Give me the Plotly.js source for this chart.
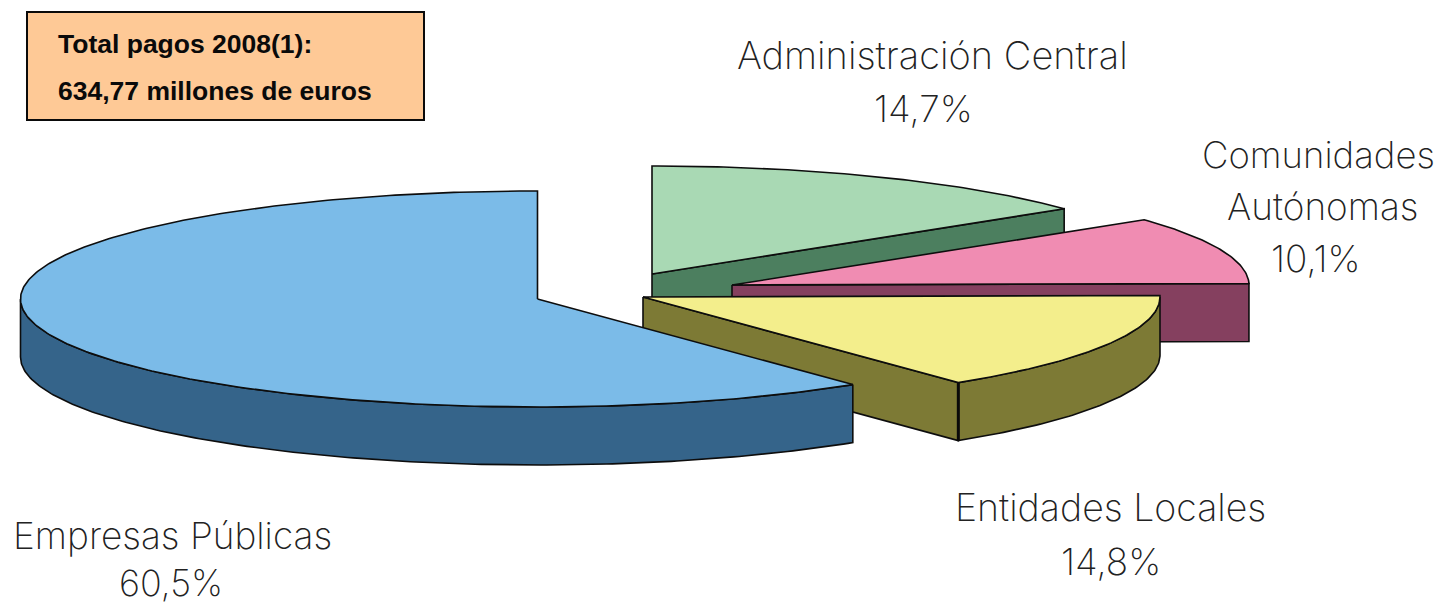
<!DOCTYPE html>
<html>
<head>
<meta charset="utf-8">
<script src="https://cdn.plot.ly/plotly-3.0.1.min.js"></script>
<style>html,body{margin:0;padding:0;background:#fff}#chart{width:1442px;height:605px}</style>
</head>
<body>
<div id="chart"></div>
<script>
// Data, clockwise from 12 o'clock
const categories = ["Administración Central", "Comunidades Autónomas", "Entidades Locales", "Empresas Públicas"];
const shares = [14.7, 10.1, 14.8, 60.5];
const shareLabels = ["14,7%", "10,1%", "14,8%", "60,5%"];
const topColors = ["#a9d9b4", "#f08cb2", "#f3ee8c", "#7bbbe8"];
const wallColors = ["#4c7f5f", "#85405f", "#7d7a35", "#35648a"];

// Projection of the exploded pie
const rx = 517, ry = 108, depth = 58;
const apexX = [652, 732, 643, 537.5];
const apexY = [274, 285, 297, 299];
const total = shares.reduce((s, v) => s + v, 0);

function pt(i, thetaDeg, drop) {
  const t = thetaDeg * Math.PI / 180;
  return [apexX[i] + rx * Math.sin(t), apexY[i] - ry * Math.cos(t) + drop];
}
function arc(i, a, b, drop) {
  const out = [], n = Math.max(8, Math.ceil(Math.abs(b - a) * 1.5));
  for (let k = 0; k <= n; k++) out.push(pt(i, a + (b - a) * k / n, drop));
  return out;
}
function poly(points, color) {
  const xs = points.map(p => p[0]), ys = points.map(p => p[1]);
  xs.push(xs[0]); ys.push(ys[0]);
  return {type: "scatter", mode: "lines", x: xs, y: ys, fill: "toself", fillcolor: color,
          line: {color: "#0d0d0d", width: 1.6}, hoverinfo: "skip", showlegend: false};
}

const traces = [];
let acc = 0;
shares.forEach((v, i) => {
  const a = acc / total * 360, b = (acc + v) / total * 360;
  acc += v;
  const apex = [apexX[i], apexY[i]];
  // radial wall of the clockwise edge is visible while it faces the viewer
  if (b < 180) {
    traces.push(poly([apex, pt(i, b, 0), pt(i, b, depth), [apex[0], apex[1] + depth]], wallColors[i]));
  }
  // rim wall: the part of the rim on the near half of the ellipse
  const wa = Math.max(a, 90), wb = Math.min(b, 270);
  if (wb > wa) {
    traces.push(poly(arc(i, wa, wb, 0).concat(arc(i, wb, wa, depth)), wallColors[i]));
  }
  // heavy corner where the radial wall meets the rim wall
  if (b < 180 && b > 90) {
    const p0 = pt(i, b, 0), p1 = pt(i, b, depth);
    traces.push({type: "scatter", mode: "lines", x: [p0[0], p1[0]], y: [p0[1], p1[1]],
                 line: {color: "#0a0a0a", width: 3}, hoverinfo: "skip", showlegend: false});
  }
  // top face
  traces.push(poly([apex].concat(arc(i, a, b, 0)), topColors[i]));
});

const labelFont = {family: "Inter, Liberation Sans, Arial, sans-serif", color: "#222222", weight: 200};
function label(text, x, y, size) {
  return {text, x, y, xref: "x", yref: "y", showarrow: false, xanchor: "center", yanchor: "middle",
          font: Object.assign({}, labelFont, {size})};
}
function boxText(text, y) {
  return {text, x: 56, y, xref: "x", yref: "y", showarrow: false, xanchor: "left", yanchor: "middle",
          font: {family: "Liberation Sans, Arial, sans-serif", size: 26.5, color: "#0a0a0a", weight: 700}};
}

const annotations = [
  boxText("Total pagos 2008(1):", 44),
  boxText("634,77 millones de euros", 91),
  label("Administración Central", 932, 55, 38),
  label(shareLabels[0], 923, 108, 37),
  label("Comunidades", 1318, 155, 36.5),
  label("Autónomas", 1323, 206, 37),
  label(shareLabels[1], 1316, 258, 37),
  label("Entidades Locales", 1110, 507, 37.5),
  label(shareLabels[2], 1111, 561, 37),
  label("Empresas Públicas", 172, 535, 37),
  label(shareLabels[3], 171, 583, 36)
];

const layout = {
  width: 1442, height: 605,
  margin: {l: 0, r: 0, t: 0, b: 0},
  paper_bgcolor: "#ffffff", plot_bgcolor: "#ffffff",
  showlegend: false,
  xaxis: {range: [0, 1442], visible: false, fixedrange: true},
  yaxis: {range: [605, 0], visible: false, fixedrange: true},
  shapes: [{type: "rect", xref: "x", yref: "y", x0: 27, x1: 424, y0: 12, y1: 120,
            fillcolor: "#fec996", line: {color: "#0a0a0a", width: 2}}],
  annotations
};
Plotly.newPlot("chart", traces, layout, {displayModeBar: false, staticPlot: true});
</script>
</body>
</html>
